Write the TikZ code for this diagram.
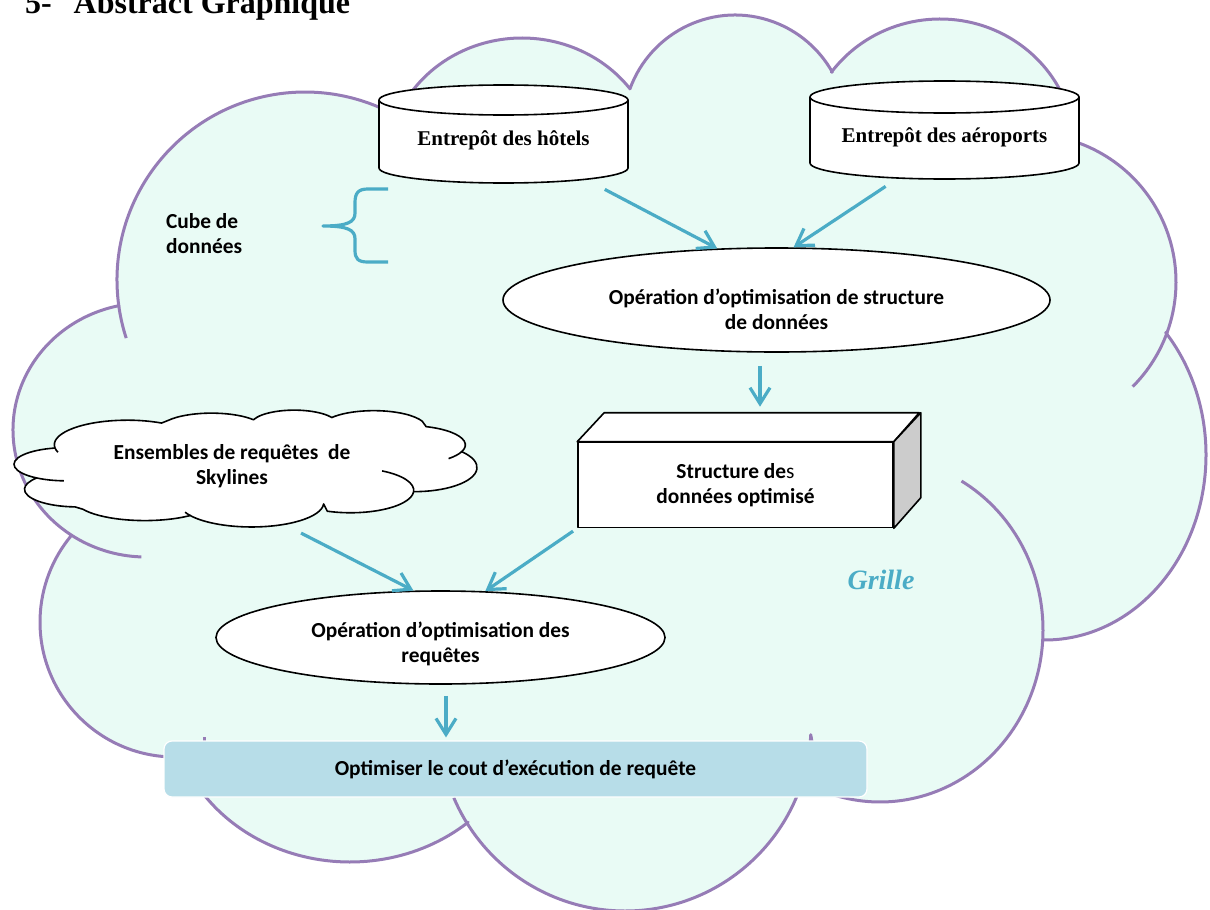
\documentclass[tikz,border=0pt]{standalone}
\usepackage{fontspec}
\setmainfont{Liberation Serif}
\newfontfamily\calibri{Carlito}
\usetikzlibrary{shapes.geometric,arrows.meta}
\definecolor{nuage}{RGB}{233,251,245}
\definecolor{bordnuage}{RGB}{150,124,182}
\definecolor{fleche}{HTML}{4BACC6}
\definecolor{barre}{HTML}{B7DDE8}
\definecolor{cote}{RGB}{204,204,204}
%% Contour du nuage (forme commune aux deux nuages)
\newcommand\formenuage{(118.88,306.49) arc(171.9:298:188)
 -- (410.08,93.98) arc(214:323.1:135 and 127)
 -- (629.89,88.98) arc(200.2:330.3:112 and 113)
 -- (831.48,72.08) arc(216.5:337.5:135 and 131)
 -- (1074.96,141.65) arc(288.5:379.8:148)
 -- (1165.77,332.66) arc(-41.4:90.7:161 and 185)
 -- (1042.73,639.90) arc(3.3:111.5:163 and 172)
 -- (810.75,734.73) arc(3:148.3:186)
 -- (468.09,822.26) arc(49:152.5:180 and 162)
 -- (170.29,756.92) arc(92:219.8:135)
 -- (71.24,535.04) arc(124.2:258.3:133 and 127)
 -- cycle}
\newcommand\traitsnuage{(126.20,338.10) arc(162:171.9:188)
 (1167.25,332.13) arc(19.8:45:148)
 (961.5,481.04) arc(-60:3.3:163 and 172)
 (141.36,556.92) arc(92:124.2:133 and 127)
 (466.75,822.74) arc(148.3:157:186)}
\begin{document}
\begin{tikzpicture}[x=0.5pt,y=-0.5pt,line join=round,
 txt/.style={font=\calibri\bfseries\fontsize{10.7}{12.5}\selectfont,align=center},
 contour/.style={draw=bordnuage,line width=1.5pt,fill=nuage},
 trait/.style={draw=bordnuage,line width=1.5pt},
 entrepot/.style={inner sep=0pt,minimum height=49pt,font=\bfseries\fontsize{10.5}{12}\selectfont},
 operation/.style={ellipse,draw,line width=0.8pt,fill=white,inner sep=0pt,txt},
 flux/.style={draw=fleche,line width=1.6pt,-{Straight Barb[length=8pt,width=10pt]}}]
\useasboundingbox (0,0) rectangle (1210,910);
\clip (0,0) rectangle (1210,910);
%%Titre
\node[anchor=base west,font=\bfseries\fontsize{16}{19}\selectfont] (titre) at (18,13) {5-\hspace{11pt}Abstract Graphique};
%%Nuage de la grille
\filldraw[contour] \formenuage;
\draw[trait] \traitsnuage;
\draw[trait] (204,737)--(204,745);
%%Entrepots
\filldraw[fill=white,line width=0.8pt] (379,100) -- (379,168) arc(180:360:62.25pt and 7.5pt) -- (628,100) arc(0:180:62.25pt and 7.5pt) -- cycle;
\draw[line width=0.8pt] (379,100) arc(180:360:62.25pt and 7.5pt);
\filldraw[fill=white,line width=0.8pt] (810,97) -- (810,163) arc(180:360:67.25pt and 8pt) -- (1079,97) arc(0:180:67.25pt and 8pt) -- cycle;
\draw[line width=0.8pt] (810,97) arc(180:360:67.25pt and 8pt);
\node[entrepot,minimum width=124.5pt] (hotels) at (503.5,140) {Entrepôt des hôtels};
\node[entrepot,minimum width=134.5pt] (airports) at (944.5,137) {Entrepôt des aéroports};
%%Cube de donnees
\node[txt,align=left,anchor=west] (cube) at (159,234) {Cube de\\données};
\draw[fleche,line width=1.6pt] (388,189) -- (368,189) .. controls (358,189) and (355,193) .. (355,203) -- (355,213) .. controls (355,222) and (348,226) .. (323,226) .. controls (348,226) and (355,230) .. (355,239) -- (355,250) .. controls (355,259) and (358,262) .. (368,262) -- (388,262);
%%Operations
\node[operation,minimum width=273.5pt,minimum height=52pt] (opstruct) at (776.5,300) {\rule{0pt}{17pt}Opération d’optimisation de structure\\de données};
\node[operation,minimum width=224.5pt,minimum height=46.5pt] (opreq) at (440.5,637.5) {\rule{0pt}{14pt}Opération d’optimisation des\\requêtes};
%%Structure optimisee (boite)
\node[draw,line width=0.8pt,fill=white,minimum width=157.5pt,minimum height=42.5pt,txt] (optstruct) at (735.5,485) {Structure de\textmd{s}\\données optimisé};
\filldraw[fill=white,line width=0.8pt] (optstruct.north west) -- ++(27,-29) -- ++(315,0) -- (optstruct.north east) -- cycle;
\filldraw[fill=cote,line width=0.8pt] (optstruct.north east) -- ++(27,-29) -- ++(0,85) -- (optstruct.south east) -- cycle;
%%Requetes Skylines (meme nuage, reduit)
\begin{scope}[shift={(14,410)},xscale=0.3881,yscale=0.1304,shift={(-13,-14)}]
\filldraw[fill=white,line width=0.8pt] \formenuage;
\draw[line width=0.8pt] \traitsnuage;
\end{scope}
\node[txt,minimum width=231.5pt,minimum height=58.5pt] (sky) at (232,466) {Ensembles de requêtes~~de\\Skylines};
%%Objectif
\node[txt,fill=barre,draw=white,line width=0.6pt,rounded corners=4pt,minimum width=351.5pt,minimum height=28pt] (goal) at (515.5,769) {Optimiser le cout d’exécution de requête};
\node[font=\bfseries\itshape\fontsize{14}{16}\selectfont,text=fleche] (grille) at (881,580) {Grille};
%%Fleches
\coordinate (haut) at ([xshift=-8.25pt]opstruct.south);
\coordinate (bas) at ([xshift=2.75pt]opreq.south);
\draw[flux] (hotels.-26) -- (opstruct.139);
\draw[flux] (airports.-140) -- (opstruct.72);
\draw[flux,shorten <=6.5pt,shorten >=17.5pt] (haut) -- (haut |- optstruct.north);
\draw[flux,shorten <=9pt] (sky.-48) -- (opreq.120);
\draw[flux,shorten <=2.5pt] (optstruct.south west) -- (opreq.46);
\draw[flux,shorten <=5.5pt,shorten >=1.5pt] (bas) -- (bas |- goal.north);
\end{tikzpicture}
\end{document}
